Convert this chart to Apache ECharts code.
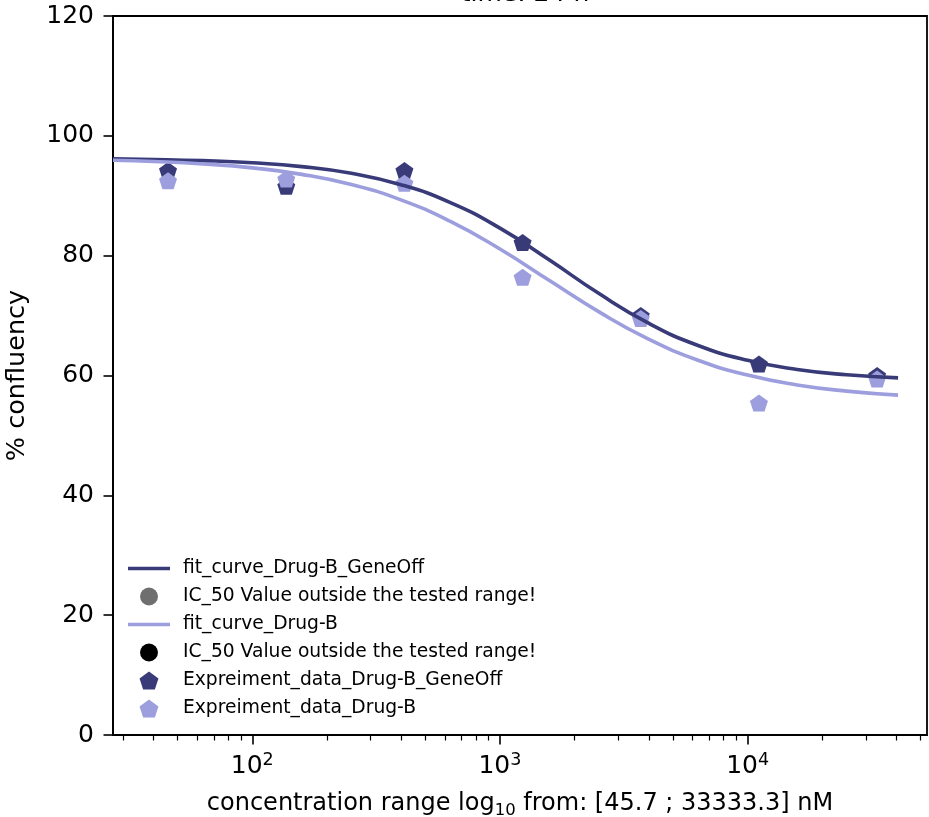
<!DOCTYPE html>
<html>
<head>
<meta charset="utf-8">
<script src="https://cdn.jsdelivr.net/npm/echarts@6/dist/echarts.min.js"></script>
<style>
html,body{margin:0;padding:0;background:#fff;}
#chart{width:929px;height:817px;}
</style>
</head>
<body>
<div id="chart"></div>
<script>
// ---- data ----
const concentrations = [45.7, 137.2, 411.5, 1234.6, 3703.7, 11111.1, 33333.3];
const geneOffData = [94.2, 91.6, 94.2, 82.2, 70.0, 61.9, 60.0];
const drugBData = [92.5, 92.8, 92.1, 76.4, 69.5, 55.4, 59.4];

const curveX = [27.4, 40, 63.1, 100, 158.5, 251.2, 398.1, 631, 1000, 1585, 2512, 3981, 6310, 10000, 15849, 25119, 40500];
const fitGeneOff = [96.15, 96.06, 95.86, 95.5, 94.86, 93.74, 91.85, 88.86, 84.6, 79.27, 73.67, 68.73, 65.01, 62.53, 61.01, 60.12, 59.6];
const fitDrugB = [95.92, 95.71, 95.31, 94.65, 93.57, 91.87, 89.31, 85.71, 81.1, 75.84, 70.62, 66.07, 62.55, 60.07, 58.43, 57.39, 56.72];

const majorTicks = [100, 1000, 10000];
const minorTicks = [30, 40, 50, 60, 70, 80, 90, 200, 300, 400, 500, 600, 700, 800, 900,
  2000, 3000, 4000, 5000, 6000, 7000, 8000, 9000, 20000, 30000, 40000, 50000];

const seriesNames = [
  'fit_curve_Drug-B_GeneOff',
  'IC_50 Value outside the tested range!',
  'fit_curve_Drug-B',
  'IC_50 Value outside the tested range! ',
  'Expreiment_data_Drug-B_GeneOff',
  'Expreiment_data_Drug-B'
];

const darkColor = '#393b79';
const lightColor = '#9c9ede';
const pentagon = 'path://M0,-1 L0.951,-0.309 L0.588,0.809 L-0.588,0.809 L-0.951,-0.309 Z';
const lineIcon = 'path://M0,0 L42,0 L42,3.6 L0,3.6 Z';
const FONT = 'DejaVu Sans';

const pair = (xs, ys) => xs.map((x, i) => [x, ys[i]]);

const chart = echarts.init(document.getElementById('chart'), null, {renderer: 'canvas'});
chart.setOption({
  animation: false,
  backgroundColor: '#fff',
  title: {
    text: 'time: 24 h',
    left: 520, top: -23, textAlign: 'center',
    textStyle: {fontFamily: FONT, fontSize: 25, fontWeight: 'normal', color: '#000'}
  },
  grid: {left: 113, right: 2, top: 16, bottom: 82, outerBoundsMode: 'none', containLabel: false,
         show: true, borderColor: '#000', borderWidth: 1.8, backgroundColor: 'transparent'},
  legend: {
    orient: 'vertical', left: 128, top: 559, padding: 0,
    itemWidth: 42, itemHeight: 18, itemGap: 9,
    data: [
      {name: seriesNames[0], icon: lineIcon},
      {name: seriesNames[1]},
      {name: seriesNames[2], icon: lineIcon},
      {name: seriesNames[3]},
      {name: seriesNames[4]},
      {name: seriesNames[5]}
    ],
    textStyle: {fontFamily: FONT, fontSize: 18.7, color: '#000', lineHeight: 18, padding: [0, 0, 0, 8]}
  },
  xAxis: [{
    type: 'log', min: 27.4, max: 53000, gridIndex: 0, position: 'bottom',
    axisLine: {show: true, lineStyle: {color: '#000', width: 1.8}},
    axisTick: {show: true, inside: false, length: 9.5, lineStyle: {color: '#000', width: 1.6}, customValues: majorTicks},
    axisLabel: {
      show: true, margin: 16, customValues: majorTicks,
      formatter: v => '{b|10}{s|' + Math.round(Math.log10(v)) + '}',
      rich: {
        b: {fontFamily: FONT, fontSize: 25, color: '#000', lineHeight: 30},
        s: {fontFamily: FONT, fontSize: 17.5, color: '#000', lineHeight: 15, verticalAlign: 'top'}
      }
    },
    splitLine: {show: false},
    name: 'concentration range log{sub|10} from: [45.7 ; 33333.3] nM',
    nameLocation: 'middle', nameGap: 54,
    nameTextStyle: {
      fontFamily: FONT, fontSize: 24, color: '#000', lineHeight: 30,
      rich: {sub: {fontFamily: FONT, fontSize: 16.5, color: '#000', lineHeight: 16, verticalAlign: 'bottom'}}
    }
  }, {
    type: 'log', min: 27.4, max: 53000, gridIndex: 0, position: 'bottom',
    axisLine: {show: false},
    axisTick: {show: true, inside: false, length: 5.5, lineStyle: {color: '#000', width: 1.2}, customValues: minorTicks},
    axisLabel: {show: false},
    splitLine: {show: false}
  }],
  yAxis: {
    type: 'value', min: 0, max: 120, interval: 20,
    axisLine: {show: true, lineStyle: {color: '#000', width: 1.8}},
    axisTick: {show: true, inside: false, length: 9.5, lineStyle: {color: '#000', width: 1.6}},
    axisLabel: {margin: 19, fontFamily: FONT, fontSize: 25, color: '#000'},
    splitLine: {show: false},
    name: '% confluency', nameLocation: 'middle', nameGap: 83,
    nameTextStyle: {fontFamily: FONT, fontSize: 25.5, color: '#000'}
  },
  series: [
    {name: seriesNames[0], type: 'line', data: pair(curveX, fitGeneOff), showSymbol: false, symbol: 'none',
     smooth: true, lineStyle: {color: darkColor, width: 3.6}, itemStyle: {color: darkColor}},
    {name: seriesNames[1], type: 'scatter', data: [], symbol: 'circle', symbolSize: 17, itemStyle: {color: '#6f6f6f', opacity: 1}},
    {name: seriesNames[2], type: 'line', data: pair(curveX, fitDrugB), showSymbol: false, symbol: 'none',
     smooth: true, lineStyle: {color: lightColor, width: 3.6}, itemStyle: {color: lightColor}},
    {name: seriesNames[3], type: 'scatter', data: [], symbol: 'circle', symbolSize: 17, itemStyle: {color: '#000', opacity: 1}},
    {name: seriesNames[4], type: 'scatter', data: pair(concentrations, geneOffData), symbol: pentagon, symbolSize: [18, 17], itemStyle: {color: darkColor, opacity: 1}},
    {name: seriesNames[5], type: 'scatter', data: pair(concentrations, drugBData), symbol: pentagon, symbolSize: [18, 17], itemStyle: {color: lightColor, opacity: 1}}
  ]
});
</script>
</body>
</html>
